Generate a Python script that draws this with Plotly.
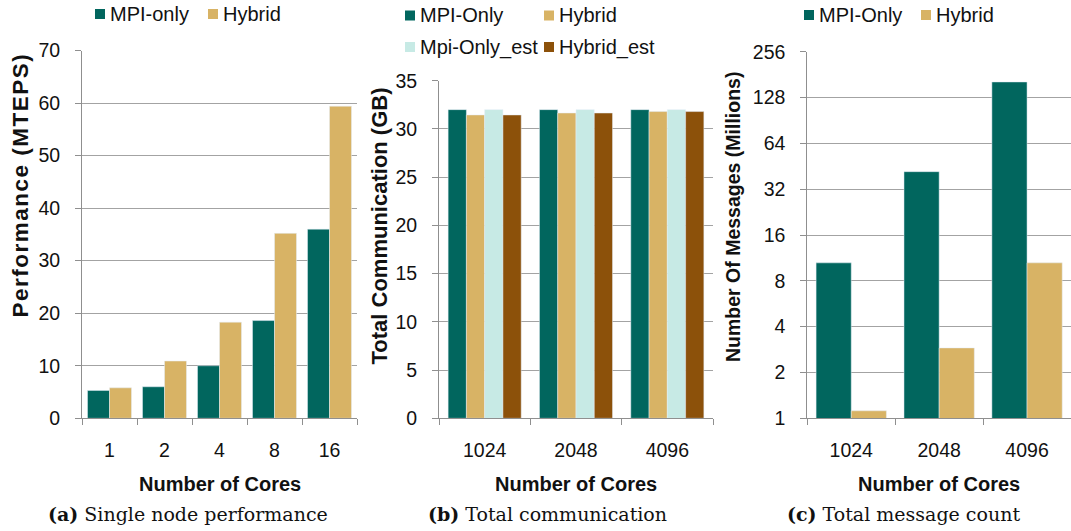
import plotly.graph_objects as go

W, H = 1071, 531

# ---- data -------------------------------------------------------------
# (a) single node performance
cores_a = ["1", "2", "4", "8", "16"]
perf_mpi = [5.3, 6.0, 10.0, 18.6, 36.0]
perf_hybrid = [5.8, 10.9, 18.3, 35.2, 59.4]

# (b) total communication (GB)
cores_b = ["1024", "2048", "4096"]
comm_mpi = [32.0, 32.0, 32.0]
comm_hybrid = [31.45, 31.65, 31.8]
comm_mpi_est = [32.0, 32.0, 32.0]
comm_hybrid_est = [31.45, 31.65, 31.8]

# (c) total message count (millions)
cores_c = ["1024", "2048", "4096"]
msgs_mpi = [10.5, 41.7, 162.0]
msgs_hybrid = [1.12, 2.9, 10.5]
msg_ticks = [1, 2, 4, 8, 16, 32, 64, 128, 256]

# ---- styling ----------------------------------------------------------
TEAL = "#01665e"
TAN = "#d8b365"
LIGHT = "#c7eae5"
BROWN = "#8c510a"
GRID = "#a3a3a3"
AXIS = "#8f8f8f"
TXT = "#111111"
SANS = "Liberation Sans, Arial, sans-serif"
SERIF = "DejaVu Serif, serif"


def px(x):
    return x / W


def py(y):
    return 1 - y / H


fig = go.Figure()

fig.add_trace(go.Bar(x=cores_a, y=perf_mpi, name="MPI-only", marker_color=TEAL,
                     xaxis="x", yaxis="y", showlegend=False))
fig.add_trace(go.Bar(x=cores_a, y=perf_hybrid, name="Hybrid", marker_color=TAN,
                     xaxis="x", yaxis="y", showlegend=False))

fig.add_trace(go.Bar(x=cores_b, y=comm_mpi, name="MPI-Only", marker_color=TEAL,
                     xaxis="x2", yaxis="y2", showlegend=False))
fig.add_trace(go.Bar(x=cores_b, y=comm_hybrid, name="Hybrid", marker_color=TAN,
                     xaxis="x2", yaxis="y2", showlegend=False))
fig.add_trace(go.Bar(x=cores_b, y=comm_mpi_est, name="Mpi-Only_est", marker_color=LIGHT,
                     xaxis="x2", yaxis="y2", showlegend=False))
fig.add_trace(go.Bar(x=cores_b, y=comm_hybrid_est, name="Hybrid_est", marker_color=BROWN,
                     xaxis="x2", yaxis="y2", showlegend=False))

fig.add_trace(go.Bar(x=cores_c, y=msgs_mpi, name="MPI-Only", marker_color=TEAL,
                     xaxis="x3", yaxis="y3", showlegend=False))
fig.add_trace(go.Bar(x=cores_c, y=msgs_hybrid, name="Hybrid", marker_color=TAN,
                     xaxis="x3", yaxis="y3", showlegend=False))

tickfont = dict(family=SANS, size=19.5, color=TXT)

xcommon = dict(type="category", showline=True, linecolor=AXIS, linewidth=1,
               ticks="outside", ticklen=6, tickcolor=AXIS, tickson="boundaries",
               showgrid=False, tickfont=tickfont, ticklabelstandoff=14,
               automargin=False, fixedrange=True)
ycommon = dict(showline=True, linecolor=AXIS, linewidth=1, ticks="outside", ticklen=6,
               tickcolor=AXIS, showgrid=True, gridcolor=GRID, gridwidth=1, zeroline=False,
               tickfont=tickfont, ticklabelstandoff=11, automargin=False, fixedrange=True)

bottom = py(418.3)

fig.update_layout(
    width=W, height=H, autosize=False,
    margin=dict(l=0, r=0, t=0, b=0, pad=0, autoexpand=False),
    paper_bgcolor="white", plot_bgcolor="white",
    barmode="group", bargap=0.2, bargroupgap=0.0,
    showlegend=False,
    xaxis=dict(xcommon, domain=[px(82), px(357)], anchor="y", range=[-0.5, 4.5]),
    yaxis=dict(ycommon, domain=[bottom, py(50.5)], anchor="x", range=[0, 70], dtick=10),
    xaxis2=dict(xcommon, domain=[px(439), px(713)], anchor="y2", range=[-0.5, 2.5]),
    yaxis2=dict(ycommon, domain=[bottom, py(80.7)], anchor="x2", range=[0, 35], dtick=5),
    xaxis3=dict(xcommon, domain=[px(807.3), 1.0], anchor="y3", range=[-0.5, 2.5]),
    yaxis3=dict(ycommon, domain=[bottom, py(51.7)], anchor="x3", type="log",
                range=[0, 2.40824], tickvals=msg_ticks,
                ticktext=[str(v) for v in msg_ticks]),
)

annotations = []
shapes = []


def text(x, y, s, size, family=SANS, angle=0, xanchor="center", bold=False):
    annotations.append(dict(
        xref="paper", yref="paper", x=px(x), y=py(y), text=s, showarrow=False,
        xanchor=xanchor, yanchor="middle", textangle=angle,
        font=dict(family=family, size=size, color=TXT,
                  weight="bold" if bold else "normal"),
    ))


def legend_item(x, y, color, label):
    shapes.append(dict(type="rect", xref="paper", yref="paper",
                       x0=px(x), x1=px(x + 10), y0=py(y - 5), y1=py(y + 5),
                       fillcolor=color, line=dict(width=0)))
    text(x + 13, y, label, 20, xanchor="left")


# legends
legend_item(95, 14, TEAL, "MPI-only")
legend_item(208, 14, TAN, "Hybrid")

legend_item(405, 15.5, TEAL, "MPI-Only")
legend_item(544, 15.5, TAN, "Hybrid")
legend_item(405, 47, LIGHT, "Mpi-Only_est")
legend_item(544, 47, BROWN, "Hybrid_est")

legend_item(804, 15, TEAL, "MPI-Only")
legend_item(921, 15, TAN, "Hybrid")

# y-axis titles
text(19.5, 185, '<span style="letter-spacing:1.5px">Performance (MTEPS)</span>',
     22.5, angle=-90, bold=True)
text(378.5, 226, "Total Communication (GB)", 22, angle=-90, bold=True)
text(733, 217, "Number Of Messages (Millions)", 19.5, angle=-90, bold=True)

# x-axis titles
for cx in (219.5, 576, 939):
    text(cx, 484, "Number of Cores", 20, bold=True)

# sub-figure captions
text(188, 514, "<b>(a)</b> Single node performance", 19, family=SERIF)
text(547, 514, "<b>(b)</b> Total communication", 19, family=SERIF)
text(903, 514, "<b>(c)</b> Total message count", 19, family=SERIF)

fig.update_layout(annotations=annotations, shapes=shapes)

fig.write_html("out.html")
